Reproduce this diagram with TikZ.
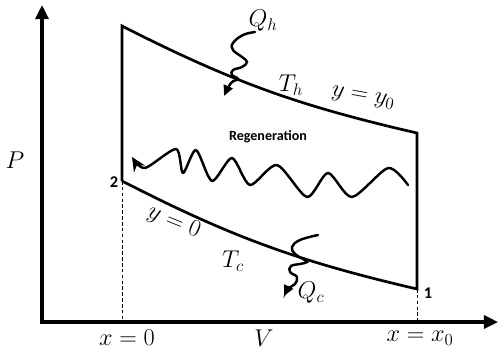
\documentclass[tikz,border=0pt]{standalone}
\usepackage{amsmath}
\usepackage{fontspec}
\setsansfont{Carlito}
\usetikzlibrary{arrows.meta,positioning}
\tikzset{
  axisline/.style={line width=2.6pt,{Triangle[length=12pt,width=11pt]}-{Triangle[length=12pt,width=11pt]}},
  cycleline/.style={line width=2.3pt},
  heatflow/.style={line width=2.1pt,line cap=round,-{Triangle[length=9pt,width=8pt]}},
  regenflow/.style={line width=2.1pt,line cap=round,line join=round,-{Stealth[length=12pt,width=11pt]}},
  guide/.style={line width=0.6pt,dash pattern=on 3pt off 2pt},
  mathlbl/.style={font=\fontsize{20}{22}\selectfont,inner sep=1pt},
  statelbl/.style={font=\sffamily\bfseries\fontsize{14}{16}\selectfont},
}

\begin{document}
\begin{tikzpicture}[x=0.03cm,y=0.03cm]
  \useasboundingbox (0,0) rectangle (500,352);
  % axes
  \coordinate (O) at (42,30);
  \coordinate (Ptip) at (42,347);
  \coordinate (Vtip) at (498,30);
  \draw[axisline] (Ptip) -- (O) -- (Vtip);
  \node[mathlbl] (Plbl) at (15,192) {$P$};
  \node[mathlbl] (Vlbl) at (264,14) {$V$};

  % corners of the cycle
  \coordinate (s1) at (417,63);
  \coordinate (s2) at (122,171);
  \coordinate (s3) at (122,326);
  \coordinate (s4) at (417,219);
  \draw[cycleline] (s2) -- (s3) to[bend right=7] (s4) -- (s1) to[bend left=7] (s2);
  \draw[guide] (s2) -- (s2 |- O);
  \draw[guide] (s1) -- (s1 |- O);
  \node[statelbl] (lbl1) at (428,59) {1};
  \node[statelbl] (lbl2) at (114,170) {2};
  \node[mathlbl] (x0lbl) at (127,14) {$x=0$};
  \node[mathlbl] (xendlbl) at (420,14) {$x=x_0$};

  % hot side
  \node[mathlbl] (Qh) at (263,331) {$Q_h$};
  \node[mathlbl] (Th) at (291,267) {$T_h$};
  \node[mathlbl,rotate=-10] (yhot) at (363,254) {$y=y_0$};
  \draw[heatflow] plot[smooth,tension=0.7] coordinates {
    (255,320) (243,317) (233,309) (233,302) (242,295) (247,290)
    (242,285) (233,282) (232,277) (238,273) (231,269) (224,256)};

  % cold side
  \node[mathlbl,rotate=-22] (ycold) at (174,130) {$y=0$};
  \node[mathlbl] (Tc) at (233,91) {$T_c$};
  \node[mathlbl] (Qc) at (311,59) {$Q_c$};
  \draw[heatflow] plot[smooth,tension=0.7] coordinates {
    (318,117) (300,112) (292,105) (295,98) (303,93) (307,90)
    (300,88) (291,86) (290,80) (297,75) (295,68) (289,64) (284,56)};

  % regeneration
  \node[font=\sffamily\bfseries\fontsize{12}{14}\selectfont] (Regen) at (268,215) {Regeneration};
  \draw[regenflow] plot[smooth,tension=0.45] coordinates {
    (408,167) (388,184) (352,155) (328,179) (307,155) (277,187)
    (250,167) (232,194) (212,171) (196,202) (183,179) (176,203)
    (145,184) (132,195)};
\end{tikzpicture}
\end{document}
